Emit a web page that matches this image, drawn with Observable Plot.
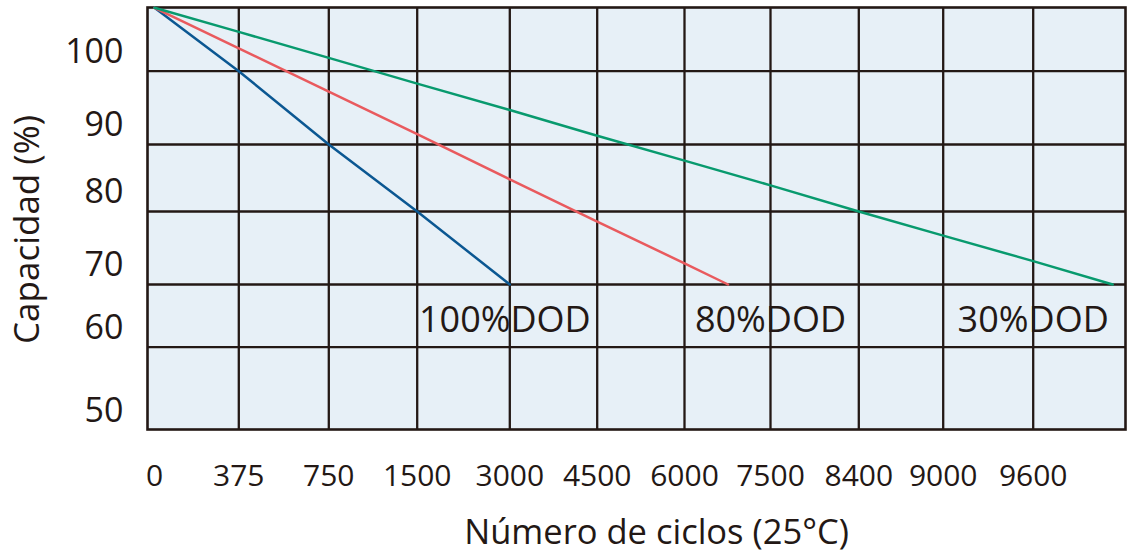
<!DOCTYPE html>
<html>
<head>
<meta charset="utf-8">
<script src="https://cdn.jsdelivr.net/npm/d3@7"></script>
<script src="https://cdn.jsdelivr.net/npm/@observablehq/plot@0.6"></script>
<style>
  html, body { margin: 0; padding: 0; background: #ffffff; }
  #chart svg { display: block; }
</style>
</head>
<body>
<div id="chart"></div>
<script>
// Tick labels
const cycleTicks = [0, 375, 750, 1500, 3000, 4500, 6000, 7500, 8400, 9000, 9600];
const capacityTicks = [50, 60, 70, 80, 90, 100];

// Series (cycles -> capacity %)
const dod100Cycles = [0, 375, 750, 1500, 3000];
const dod100Capacity = [110, 100, 90, 80, 70];

const dod80Cycles = [0, 375, 750, 1500, 3000, 4500, 6000, 6760];
const dod80Capacity = [110, 103.6, 97.2, 91.4, 84.8, 78.6, 72.9, 70];

const dod30Cycles = [0, 375, 750, 1500, 3000, 4500, 6000, 7500, 8400, 9000, 9600, 10130];
const dod30Capacity = [110, 106.2, 102.1, 98.3, 94.7, 91.2, 87.6, 83.9, 80, 76.7, 73.2, 70];

// Series labels
const seriesNames = ["100%DOD", "80%DOD", "30%DOD"];
const labelCycles = [2920, 7500, 9600];
const labelCapacity = [62.4, 62.4, 62.4];

const seriesColors = ["#0b5792", "#e95a5e", "#089a6e"];

const rows = [
  ...dod100Cycles.map((c, i) => ({series: seriesNames[0], cycles: c, capacity: dod100Capacity[i]})),
  ...dod80Cycles.map((c, i) => ({series: seriesNames[1], cycles: c, capacity: dod80Capacity[i]})),
  ...dod30Cycles.map((c, i) => ({series: seriesNames[2], cycles: c, capacity: dod30Capacity[i]}))
];
const labels = seriesNames.map((s, i) => ({series: s, cycles: labelCycles[i], capacity: labelCapacity[i]}));

const ink = "#231815";

const chart = Plot.plot({
  width: 1130,
  height: 553,
  marginLeft: 147,
  marginRight: 5,
  marginTop: 7,
  marginBottom: 124,
  style: {fontFamily: "'Open Sans', 'Noto Sans', sans-serif", color: ink, background: "#ffffff"},
  x: {
    type: "linear",
    domain: cycleTicks,
    range: [154, 238.3, 328.3, 416.7, 509.3, 596.7, 684, 770, 858.3, 942.7, 1032.7]
  },
  y: {
    type: "linear",
    domain: [50, 60, 70, 80, 90, 100, 110],
    range: [429.3, 346.7, 284, 211, 144, 70.7, 7.3]
  },
  color: {domain: seriesNames, range: seriesColors},
  marks: [
    Plot.frame({fill: "#e7f0f7", stroke: null}),
    Plot.ruleX(cycleTicks.slice(1), {stroke: ink, strokeWidth: 2.3}),
    Plot.ruleY(capacityTicks.slice(1), {stroke: ink, strokeWidth: 2.3}),
    Plot.frame({stroke: ink, strokeWidth: 2.6}),
    Plot.line(rows, {x: "cycles", y: "capacity", z: "series", stroke: "series", strokeWidth: 2.5}),
    Plot.text(labels, {x: "cycles", y: "capacity", text: "series", textAnchor: "middle", lineAnchor: "bottom", fontSize: 36, fill: ink}),
    Plot.axisX(cycleTicks, {tickSize: 0, tickPadding: 35, fontSize: 30, tickFormat: d => String(d), label: null}),
    Plot.axisY(capacityTicks, {tickSize: 0, tickPadding: 24, fontSize: 34, dy: -19, tickFormat: d => String(d), label: null}),
    Plot.text(["Número de ciclos (25°C)"], {frameAnchor: "bottom", textAnchor: "middle", lineAnchor: "bottom", dx: 20, dy: 114, fontSize: 34.5, fill: ink}),
    Plot.text(["Capacidad (%)"], {frameAnchor: "left", textAnchor: "middle", lineAnchor: "bottom", rotate: -90, dx: -108.5, dy: 11, fontSize: 35, fill: ink})
  ]
});
document.getElementById("chart").appendChild(chart);
</script>
</body>
</html>
